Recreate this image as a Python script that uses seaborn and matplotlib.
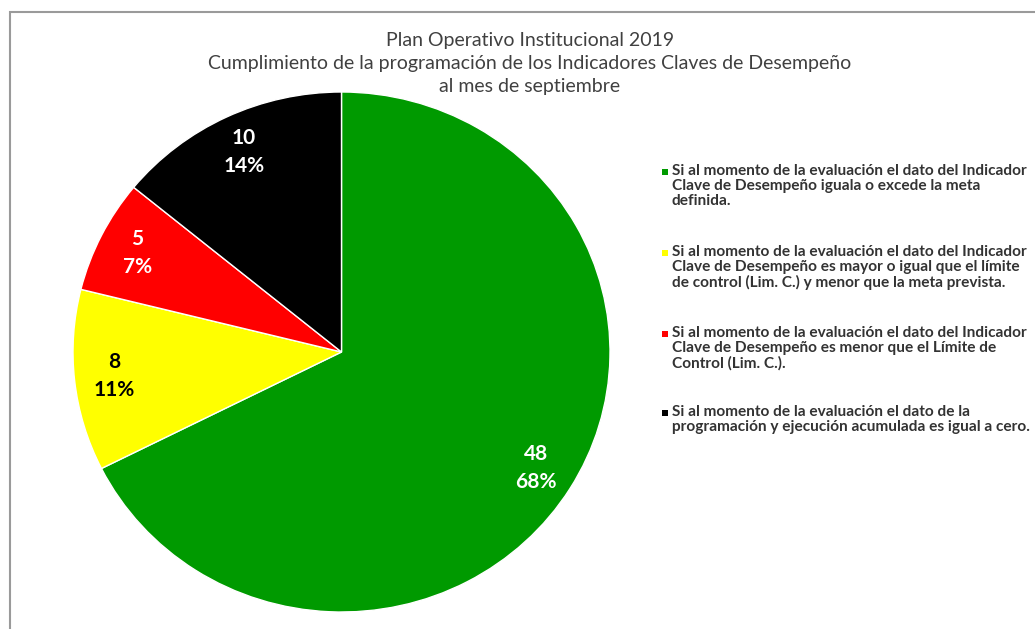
import matplotlib
matplotlib.use("Agg")
import matplotlib.pyplot as plt
import matplotlib.patches as mpatches
import seaborn as sns

# data
categories = [
    "Si al momento de la evaluación el dato del Indicador\nClave de Desempeño iguala o excede la meta\ndefinida.",
    "Si al momento de la evaluación el dato del Indicador\nClave de Desempeño es mayor o igual que el límite\nde control (Lim. C.) y menor que la meta prevista.",
    "Si al momento de la evaluación el dato del Indicador\nClave de Desempeño es menor que el Límite de\nControl (Lim. C.).",
    "Si al momento de la evaluación el dato de la\nprogramación y ejecución acumulada es igual a cero.",
]
counts = [48, 8, 5, 10]
colors = ["#009a00", "#ffff00", "#ff0000", "#000000"]
label_colors = ["white", "black", "white", "white"]
title = ("Plan Operativo Institucional 2019\n"
         "Cumplimiento de la programación de los Indicadores Claves de Desempeño\n"
         "al mes de septiembre")


def plot_chart():
    sns.set_theme(style="white")
    plt.rcParams["font.family"] = ["Lato", "DejaVu Sans"]
    fig = plt.figure(figsize=(10.35, 6.29), dpi=100)
    fig.patch.set_facecolor("white")

    # outer frame like the pasted chart area
    frame = mpatches.Rectangle((10 / 1035, -0.05), 1.2, (629 - 12) / 629 + 0.05,
                               transform=fig.transFigure, fill=False,
                               edgecolor="#9a9a9a", linewidth=1.5)
    fig.patches.append(frame)

    # the pie in the reference is slightly wider than tall
    ax = fig.add_axes([73 / 1035, 17 / 629, 537 / 1035, 520 / 629])
    total = sum(counts)
    wedges, texts, autotexts = ax.pie(
        counts,
        colors=colors,
        startangle=90,
        counterclock=False,
        autopct=lambda p: f"{round(p * total / 100)}\n{p:.0f}%",
        pctdistance=0.85,
        wedgeprops=dict(edgecolor="white", linewidth=1),
        textprops=dict(fontsize=15, fontweight="bold"),
    )
    for t, c in zip(autotexts, label_colors):
        t.set_color(c)
        t.set_linespacing(1.5)
    ax.set_xlim(-1.0, 1.0)
    ax.set_ylim(-1.0, 1.0)
    ax.set_aspect("auto")

    fig.text(0.512, 1 - 32 / 629, title, ha="center", va="top", fontsize=14,
             color="#404040", linespacing=1.42)

    # legend, square marker aligned with the first line of each entry
    first_line_y = [172, 253, 334, 413]
    for wedge, label, y in zip(wedges, categories, first_line_y):
        fy = 1 - y / 629
        sq = mpatches.Rectangle((662 / 1035, fy - 3 / 629), 6 / 1035, 6 / 629,
                                transform=fig.transFigure,
                                facecolor=wedge.get_facecolor(), edgecolor="none")
        fig.patches.append(sq)
        fig.text(672 / 1035, fy + 8 / 629, label, ha="left", va="top",
                 fontsize=11.1, fontweight="bold", color="#333333",
                 linespacing=1.08)

    plt.savefig("out.png", dpi=100)
    plt.close()


if __name__ == "__main__":
    plot_chart()
